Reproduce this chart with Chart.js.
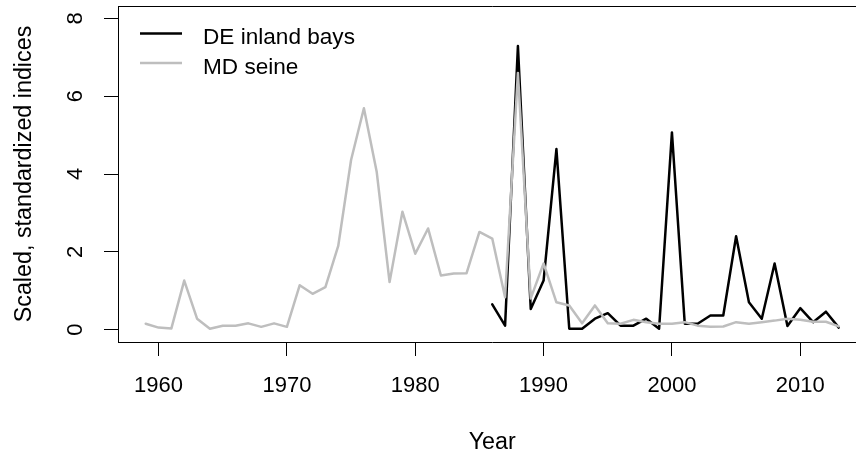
<!DOCTYPE html>
<html>
<head>
<meta charset="utf-8">
<script src="https://cdn.jsdelivr.net/npm/chart.js@4.4.1/dist/chart.umd.min.js"></script>
<style>
  html, body { margin: 0; padding: 0; overflow: hidden; background: #fff; }
</style>
</head>
<body>
<canvas id="chart" width="870" height="455"></canvas>
<script>
// years and index values
var deYears = [1986, 1987, 1988, 1989, 1990, 1991, 1992, 1993, 1994, 1995, 1996, 1997, 1998, 1999,
               2000, 2001, 2002, 2003, 2004, 2005, 2006, 2007, 2008, 2009, 2010, 2011, 2012, 2013];
var deValues = [0.65, 0.1, 7.29, 0.53, 1.26, 4.64, 0.02, 0.02, 0.28, 0.42, 0.1, 0.1, 0.28, 0.02,
                5.07, 0.15, 0.15, 0.36, 0.36, 2.4, 0.7, 0.28, 1.7, 0.09, 0.55, 0.19, 0.46, 0.05];

var mdYears = [1959, 1960, 1961, 1962, 1963, 1964, 1965, 1966, 1967, 1968, 1969, 1970, 1971, 1972,
               1973, 1974, 1975, 1976, 1977, 1978, 1979, 1980, 1981, 1982, 1983, 1984, 1985, 1986,
               1987, 1988, 1989, 1990, 1991, 1992, 1993, 1994, 1995, 1996, 1997, 1998, 1999, 2000,
               2001, 2002, 2003, 2004, 2005, 2006, 2007, 2008, 2009, 2010, 2011, 2012, 2013];
var mdValues = [0.15, 0.05, 0.03, 1.26, 0.28, 0.02, 0.1, 0.1, 0.16, 0.07, 0.16, 0.07, 1.14, 0.92,
                1.09, 2.15, 4.36, 5.69, 4.05, 1.22, 3.03, 1.95, 2.6, 1.39, 1.44, 1.45, 2.51, 2.34,
                0.83, 6.6, 0.8, 1.7, 0.7, 0.62, 0.16, 0.62, 0.16, 0.15, 0.25, 0.19, 0.15, 0.15,
                0.19, 0.1, 0.07, 0.08, 0.19, 0.15, 0.19, 0.23, 0.28, 0.25, 0.2, 0.2, 0.08];

var xTicks = [1960, 1970, 1980, 1990, 2000, 2010];
var yTicks = [0, 2, 4, 6, 8];

var FONT = 'Liberation Sans, Arial, sans-serif';

function toPoints(xs, ys) {
  return xs.map(function (x, i) { return { x: x, y: ys[i] }; });
}

// R-style box round the plot (top and right edges)
var boxPlugin = {
  id: 'box',
  afterDraw: function (chart) {
    var a = chart.chartArea, ctx = chart.ctx;
    ctx.save();
    ctx.strokeStyle = '#000';
    ctx.lineWidth = 1;
    ctx.beginPath();
    ctx.moveTo(a.left + 0.5, a.top + 0.5);
    ctx.lineTo(a.right + 0.5, a.top + 0.5);
    ctx.lineTo(a.right + 0.5, a.bottom + 0.5);
    ctx.stroke();
    ctx.restore();
  }
};

// legend in the top left corner, like legend("topleft", bty="n")
var legendPlugin = {
  id: 'cornerLegend',
  afterDraw: function (chart) {
    var ctx = chart.ctx;
    var rows = [33.5, 63];
    ctx.save();
    ctx.font = '22.6px ' + FONT;
    ctx.textBaseline = 'alphabetic';
    ctx.fillStyle = '#000';
    chart.data.datasets.forEach(function (ds, i) {
      var y = rows[i];
      ctx.strokeStyle = ds.borderColor;
      ctx.lineWidth = ds.borderWidth;
      ctx.beginPath();
      ctx.moveTo(140, y);
      ctx.lineTo(182, y);
      ctx.stroke();
      ctx.fillText(ds.label, 203, y + 10.5);
    });
    ctx.restore();
  }
};

new Chart(document.getElementById('chart'), {
  type: 'line',
  data: {
    datasets: [
      {
        label: 'DE inland bays',
        data: toPoints(deYears, deValues),
        borderColor: '#000000',
        borderWidth: 2.5,
        pointRadius: 0,
        tension: 0,
        borderJoinStyle: 'round',
        borderCapStyle: 'round',
        order: 2
      },
      {
        label: 'MD seine',
        data: toPoints(mdYears, mdValues),
        borderColor: '#bebebe',
        borderWidth: 2.5,
        pointRadius: 0,
        tension: 0,
        borderJoinStyle: 'round',
        borderCapStyle: 'round',
        order: 1
      }
    ]
  },
  options: {
    responsive: false,
    animation: false,
    devicePixelRatio: 1,
    layout: { padding: { left: 0, top: 6, right: 3.5, bottom: 0 } },
    plugins: {
      legend: { display: false },
      tooltip: { enabled: false }
    },
    scales: {
      x: {
        type: 'linear',
        min: 1956.84,
        max: 2015.16,
        afterBuildTicks: function (s) { s.ticks = xTicks.map(function (v) { return { value: v }; }); },
        afterFit: function (s) {
          s.height = 113;
          s.paddingLeft = 0;
          s.paddingRight = 0;
        },
        grid: { drawOnChartArea: false, drawTicks: true, tickLength: 14, color: '#000', lineWidth: 1 },
        border: { display: true, color: '#000', width: 1 },
        ticks: {
          maxRotation: 0,
          padding: 17,
          color: '#000',
          font: { family: FONT, size: 22 },
          callback: function (v) { return String(v); }
        },
        title: {
          display: true,
          text: 'Year',
          color: '#000',
          font: { family: FONT, size: 23.3 },
          padding: { top: 0, bottom: -2 }
        }
      },
      y: {
        min: -0.32,
        max: 8.32,
        afterBuildTicks: function (s) { s.ticks = yTicks.map(function (v) { return { value: v }; }); },
        afterFit: function (s) {
          s.width = 118;
          s.paddingTop = 0;
          s.paddingBottom = 0;
        },
        grid: { drawOnChartArea: false, drawTicks: true, tickLength: 14, color: '#000', lineWidth: 1 },
        border: { display: true, color: '#000', width: 1 },
        ticks: {
          minRotation: 90,
          maxRotation: 90,
          crossAlign: 'center',
          padding: 22,
          color: '#000',
          font: { family: FONT, size: 22 },
          callback: function (v) { return String(v); }
        },
        title: {
          display: true,
          text: 'Scaled, standardized indices',
          color: '#000',
          font: { family: FONT, size: 23.3 },
          padding: { top: 11, bottom: 0 }
        }
      }
    }
  },
  plugins: [boxPlugin, legendPlugin]
});
</script>
</body>
</html>
